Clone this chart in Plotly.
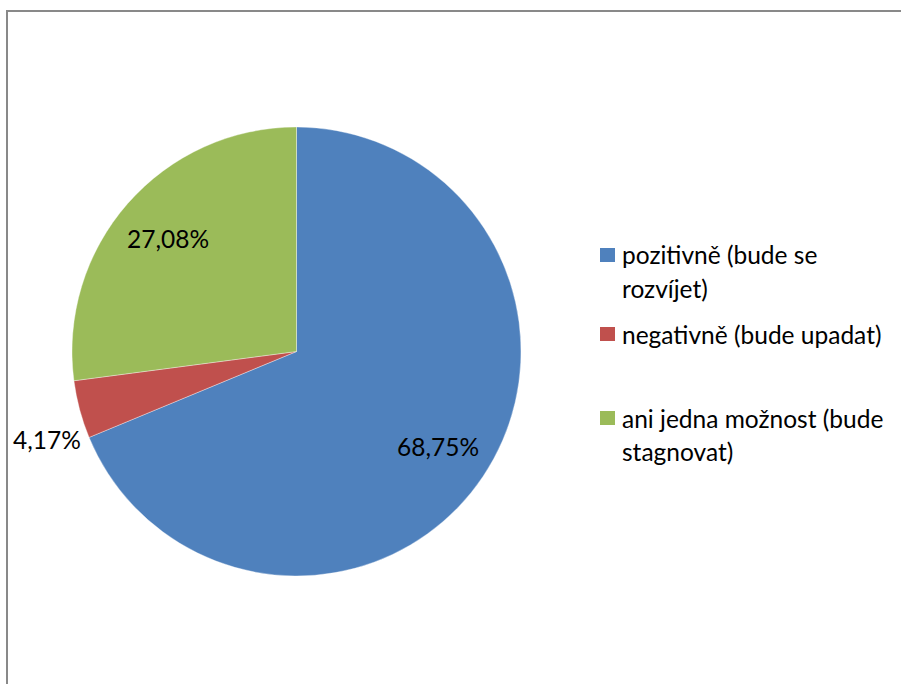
import math
import plotly.graph_objects as go

# Survey answers and their shares (%)
categories = ["pozitivně (bude se rozvíjet)", "negativně (bude upadat)", "ani jedna možnost (bude stagnovat)"]
legend_lines = [["pozitivně (bude se", "rozvíjet)"], ["negativně (bude upadat)"], ["ani jedna možnost (bude", "stagnovat)"]]
shares = [68.75, 4.17, 27.08]
colors = ["#4F81BD", "#C0504D", "#9BBB59"]

W, H = 901, 684
FONT = "Lato"
FS = 24.5

# pie geometry in pixels
cx, cy, r = 296.5, 351.5, 224.5


def px(x):
    return x / W


def py(y):
    return 1 - y / H


fig = go.Figure()
fig.add_trace(go.Pie(
    labels=categories,
    values=shares,
    sort=False,
    direction="clockwise",
    rotation=0,
    marker=dict(colors=colors, line=dict(color="rgba(255,255,255,0.6)", width=0.6)),
    textinfo="none",
    hoverinfo="label+percent",
    showlegend=False,
    domain=dict(x=[px(cx - r), px(cx + r)], y=[py(cy + r), py(cy - r)]),
))

annotations = []
shapes = []


def fmt(v):
    return f"{v:.2f}".replace(".", ",") + "%"


# data labels: placed along each slice's angular position
total = sum(shares)
start = 0.0
for i, v in enumerate(shares):
    mid = (start + v / 2) / total * 2 * math.pi
    if v / total > 0.1:
        rr = 0.76 * r
        x = cx + rr * math.sin(mid)
        y = cy - rr * math.cos(mid)
        annotations.append(dict(x=px(x), y=py(y), xref="paper", yref="paper", text=fmt(v),
                                showarrow=False, xanchor="center", yanchor="middle",
                                font=dict(family=FONT, size=FS, color="black")))
    else:
        ang = start / total * 2 * math.pi
        rr = 1.03 * r
        x = cx + rr * math.sin(ang)
        y = cy - rr * math.cos(ang)
        annotations.append(dict(x=px(x), y=py(y), xref="paper", yref="paper", text=fmt(v),
                                showarrow=False, xanchor="right", yanchor="middle",
                                font=dict(family=FONT, size=FS, color="black")))
    start += v

# legend: colour swatch + wrapped text lines
legend_top = [255, 334, 418]
line_step = 33
for i, lines in enumerate(legend_lines):
    y0 = legend_top[i]
    shapes.append(dict(type="rect", xref="paper", yref="paper",
                       x0=px(600), x1=px(615), y0=py(y0 - 7), y1=py(y0 + 7),
                       fillcolor=colors[i], line=dict(width=0)))
    for j, t in enumerate(lines):
        annotations.append(dict(x=px(620), y=py(y0 + j * line_step), xref="paper", yref="paper",
                                text=t, showarrow=False, xanchor="left", yanchor="middle",
                                font=dict(family=FONT, size=FS, color="black")))

# chart area frame: a closed path whose right and bottom sides lie off the page
frame_path = f"M 7 {H + 20} L 7 11 L {W + 20} 11 L {W + 20} {H + 20} Z"
fig.update_xaxes(visible=False, range=[0, W], fixedrange=True)
fig.update_yaxes(visible=False, range=[H, 0], fixedrange=True)
shapes.append(dict(type="path", xref="x", yref="y", path=frame_path,
                   line=dict(color="#898989", width=2), fillcolor="rgba(0,0,0,0)", layer="below"))

fig.update_layout(
    width=W, height=H,
    margin=dict(l=0, r=0, t=0, b=0),
    paper_bgcolor="white",
    plot_bgcolor="rgba(0,0,0,0)",
    annotations=annotations,
    shapes=shapes,
    font=dict(family=FONT),
)

fig.write_html(
    "out.html",
    config={"displayModeBar": False},
    post_script="document.documentElement.style.overflow='hidden';document.body.style.overflow='hidden';document.body.style.margin='0';",
)
